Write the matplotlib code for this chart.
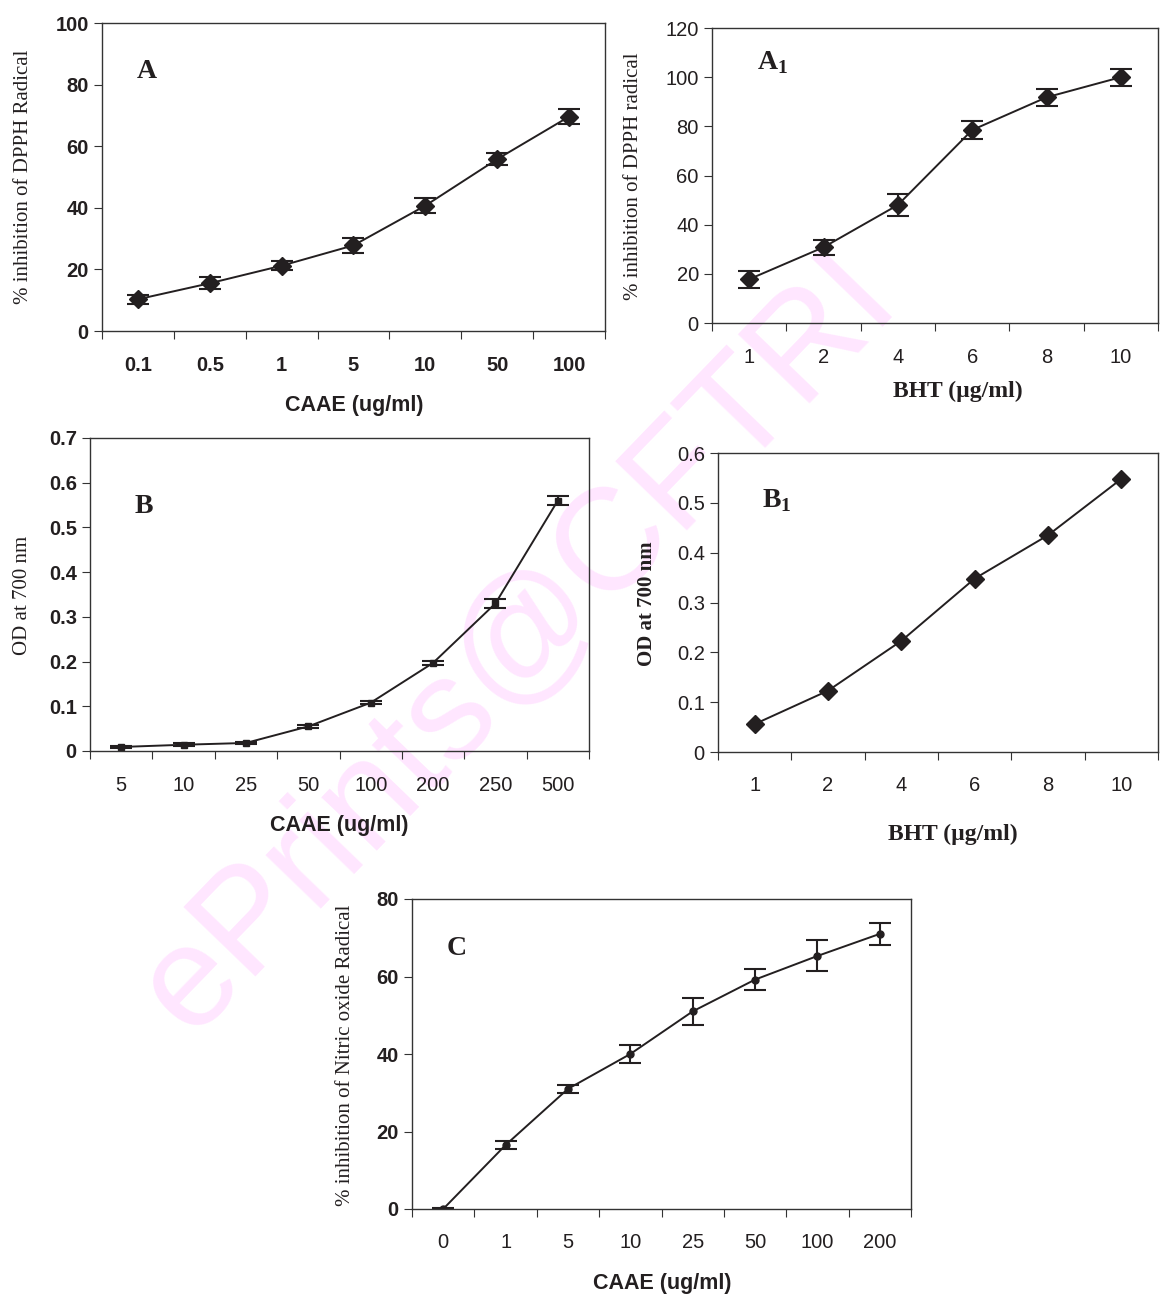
import matplotlib
matplotlib.use('Agg')
from matplotlib import pyplot as plt

# panel A - DPPH, CAAE
a_cats = ['0.1', '0.5', '1', '5', '10', '50', '100']
a_vals = [10.3, 15.5, 21.2, 27.8, 40.7, 55.8, 69.6]
a_err = [1.5, 2.0, 1.5, 2.5, 2.5, 2.0, 2.5]

# panel A1 - DPPH, BHT
a1_cats = ['1', '2', '4', '6', '8', '10']
a1_vals = [17.8, 30.8, 48.0, 78.5, 91.8, 100.0]
a1_err = [3.5, 3.0, 4.5, 3.5, 3.5, 3.5]

# panel B - reducing power, CAAE
b_cats = ['5', '10', '25', '50', '100', '200', '250', '500']
b_vals = [0.009, 0.014, 0.018, 0.055, 0.108, 0.197, 0.330, 0.560]
b_err = [0.003, 0.003, 0.002, 0.003, 0.004, 0.005, 0.010, 0.010]

# panel B1 - reducing power, BHT
b1_cats = ['1', '2', '4', '6', '8', '10']
b1_vals = [0.056, 0.123, 0.223, 0.348, 0.435, 0.548]

# panel C - nitric oxide, CAAE
c_cats = ['0', '1', '5', '10', '25', '50', '100', '200']
c_vals = [0.0, 16.5, 31.0, 40.0, 51.0, 59.2, 65.3, 71.0]
c_err = [0.3, 1.0, 1.0, 2.3, 3.5, 2.8, 4.0, 2.8]

INK = '#231f20'
SANS = 'Liberation Sans'
SERIF = 'Liberation Serif'
W, H = 1161, 1296

fig = plt.figure(figsize=(W / 100, H / 100), dpi=100)

# watermark behind everything
fig.text(0.447, 0.503, 'ePrints@CFTRI', rotation=46, fontsize=104, family=SANS,
         color='#ffe6ff', ha='center', va='center', zorder=-5)


def make_ax(left, right, top, bottom):
    ax = fig.add_axes([left / W, 1 - bottom / H, (right - left) / W, (bottom - top) / H])
    ax.set_facecolor('none')
    for s in ax.spines.values():
        s.set_color('#333333')
        s.set_linewidth(1.0)
    return ax


def put_labels(ax, xlab, xpos, ylab, ypos):
    # place axis labels by pixel centre (from top-left of picture)
    xlab.set_va('center')
    ylab.set_va('center')
    ax.xaxis.set_label_coords(xpos[0] / W, 1 - xpos[1] / H, transform=fig.transFigure)
    ax.yaxis.set_label_coords(ypos[0] / W, 1 - ypos[1] / H, transform=fig.transFigure)


def panel(ax, cats, vals, err, ymax, ystep, marker, msize, bold_ticks, yfmt, xpad):
    x = list(range(len(cats)))
    if err is not None:
        ax.errorbar(x, vals, yerr=err, color=INK, lw=1.4, marker=marker, ms=msize,
                    capsize=8, capthick=1.5, elinewidth=1.5)
    else:
        ax.plot(x, vals, color=INK, lw=1.4, marker=marker, ms=msize)
    ax.set_xlim(-0.5, len(cats) - 0.5)
    ax.set_ylim(0, ymax)
    n = int(round(ymax / ystep))
    yt = [i * ystep for i in range(n + 1)]
    ax.set_yticks(yt)
    ax.set_yticklabels([yfmt(v) for v in yt])
    ax.set_xticks([i - 0.5 for i in range(len(cats) + 1)])
    ax.set_xticklabels([])
    ax.set_xticks(x, minor=True)
    ax.set_xticklabels(cats, minor=True)
    ax.tick_params(axis='x', which='major', length=6, direction='out', color='#333333')
    ax.tick_params(axis='x', which='minor', length=0, pad=xpad)
    ax.tick_params(axis='y', length=6, direction='out', color='#333333')
    w = 'bold' if bold_ticks else 'normal'
    for lab in ax.get_xticklabels(minor=True) + ax.get_yticklabels():
        lab.set_family(SANS)
        lab.set_fontweight(w)
        lab.set_fontsize(14.5)
        lab.set_color(INK)


# A
ax = make_ax(102, 605, 23, 331)
panel(ax, a_cats, a_vals, a_err, 100, 20, 'D', 9, True, lambda v: '%d' % v, 18)
xl = ax.set_xlabel('CAAE (ug/ml)', family=SANS, fontweight='bold', fontsize=15.5, color=INK)
yl = ax.set_ylabel('% inhibition of DPPH Radical', family=SERIF, fontsize=15, color=INK)
put_labels(ax, xl, (354, 405), yl, (24, 177))
ax.text(0.07, 0.82, 'A', transform=ax.transAxes, family=SERIF, fontweight='bold', fontsize=20, color=INK)

# A1
ax = make_ax(712, 1158, 28, 323)
panel(ax, a1_cats, a1_vals, a1_err, 120, 20, 'D', 9, False, lambda v: '%d' % v, 18)
xl = ax.set_xlabel('BHT (\u00b5g/ml)', family=SERIF, fontweight='bold', fontsize=17, color=INK)
yl = ax.set_ylabel('% inhibition of DPPH radical', family=SERIF, fontsize=15, color=INK)
put_labels(ax, xl, (958, 391), yl, (634, 176))
ax.text(0.1, 0.86, 'A$_\\mathregular{1}$', transform=ax.transAxes, family=SERIF,
        fontweight='bold', fontsize=20, color=INK)

# B
ax = make_ax(90, 589, 438, 751)
panel(ax, b_cats, b_vals, b_err, 0.7, 0.1, 's', 5, True,
      lambda v: '0' if v == 0 else ('%.1f' % v), 18)
for lab in ax.get_xticklabels(minor=True):
    lab.set_fontweight('normal')
xl = ax.set_xlabel('CAAE (ug/ml)', family=SANS, fontweight='bold', fontsize=15.5, color=INK)
yl = ax.set_ylabel('OD at 700 nm', family=SERIF, fontsize=15, color=INK)
put_labels(ax, xl, (339, 825), yl, (23, 595))
ax.text(0.09, 0.76, 'B', transform=ax.transAxes, family=SERIF, fontweight='bold', fontsize=20, color=INK)

# B1
ax = make_ax(718, 1158, 453, 752)
panel(ax, b1_cats, b1_vals, None, 0.6, 0.1, 'D', 9, False,
      lambda v: '0' if v == 0 else ('%.1f' % v), 17)
xl = ax.set_xlabel('BHT (\u00b5g/ml)', family=SERIF, fontweight='bold', fontsize=17, color=INK)
yl = ax.set_ylabel('OD at 700 nm', family=SERIF, fontweight='bold', fontsize=15, color=INK)
put_labels(ax, xl, (953, 834), yl, (647, 604))
ax.text(0.1, 0.82, 'B$_\\mathregular{1}$', transform=ax.transAxes, family=SERIF,
        fontweight='bold', fontsize=20, color=INK)

# C
ax = make_ax(412, 911, 899, 1209)
panel(ax, c_cats, c_vals, c_err, 80, 20, 'o', 5, True, lambda v: '%d' % v, 17)
for lab in ax.get_xticklabels(minor=True):
    lab.set_fontweight('normal')
xl = ax.set_xlabel('CAAE (ug/ml)', family=SANS, fontweight='bold', fontsize=15.5, color=INK)
yl = ax.set_ylabel('% inhibition of Nitric oxide Radical', family=SERIF, fontsize=15, color=INK)
put_labels(ax, xl, (662, 1283), yl, (345, 1055))
ax.text(0.07, 0.82, 'C', transform=ax.transAxes, family=SERIF, fontweight='bold', fontsize=20, color=INK)

fig.savefig('out.png', dpi=100, facecolor='white')
